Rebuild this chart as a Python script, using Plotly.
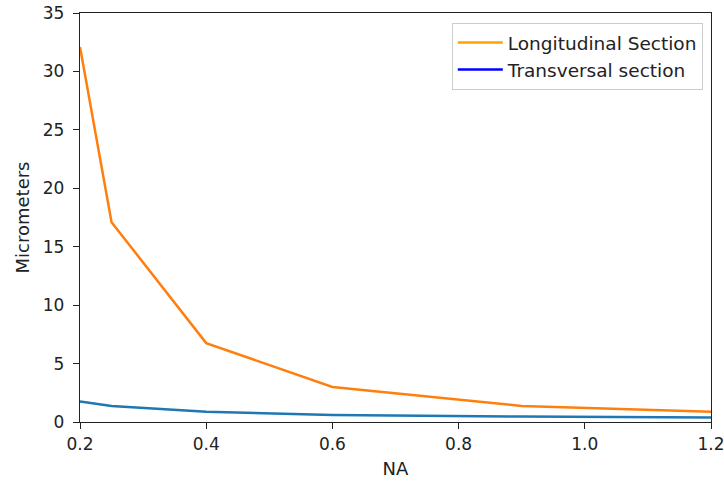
import plotly.graph_objects as go

na = [0.2, 0.25, 0.4, 0.6, 0.9, 1.2]
longitudinal = [32.1, 17.1, 6.75, 3.0, 1.37, 0.88]
transversal = [1.75, 1.37, 0.88, 0.6, 0.46, 0.38]
x_ticks = [0.2, 0.4, 0.6, 0.8, 1.0, 1.2]
x_labels = ["0.2", "0.4", "0.6", "0.8", "1.0", "1.2"]
y_ticks = [0, 5, 10, 15, 20, 25, 30, 35]

fig = go.Figure()
fig.add_trace(go.Scatter(x=na, y=longitudinal, mode="lines", line=dict(color="#ff7f0e", width=2.5),
                         showlegend=False))
fig.add_trace(go.Scatter(x=na, y=transversal, mode="lines", line=dict(color="#1f77b4", width=2.5),
                         showlegend=False))
# legend entries (legend colours differ from drawn line in the original)
fig.add_trace(go.Scatter(x=[None], y=[None], mode="lines", line=dict(color="orange", width=2.5),
                         name="Longitudinal Section"))
fig.add_trace(go.Scatter(x=[None], y=[None], mode="lines", line=dict(color="blue", width=2.5),
                         name="Transversal section"))

axis_common = dict(showgrid=False, zeroline=False, showline=True, linecolor="#222", linewidth=1.4,
                   mirror=True, ticks="outside", ticklen=6, tickcolor="#222", tickwidth=1.4,
                   automargin=False, ticklabeloverflow="allow",
                   tickfont=dict(family="DejaVu Sans", size=17, color="#222"))
fig.update_layout(
    width=724, height=484,
    margin=dict(l=80, r=13, t=13, b=62),
    paper_bgcolor="white", plot_bgcolor="white",
    font=dict(family="DejaVu Sans", size=18, color="#222"),
    xaxis=dict(range=[0.2, 1.2], tickvals=x_ticks, ticktext=x_labels,
               title=dict(text="NA", standoff=9, font=dict(size=18)), **axis_common),
    yaxis=dict(range=[0, 35], tickvals=y_ticks, ticklabelstandoff=5,
               title=dict(text="Micrometers", standoff=8, font=dict(size=18)), **axis_common),
    legend=dict(x=0.987, y=0.9756, xanchor="right", yanchor="top", bgcolor="white",
                bordercolor="#ccc", borderwidth=1, font=dict(size=18.5, color="#222"),
                itemwidth=45, tracegroupgap=0),
)
# remove the page's default 8px body margin so the figure sits at the top-left corner
fig.write_html("out.html", config={"displayModeBar": False},
               post_script="document.body.style.margin='0px';")
